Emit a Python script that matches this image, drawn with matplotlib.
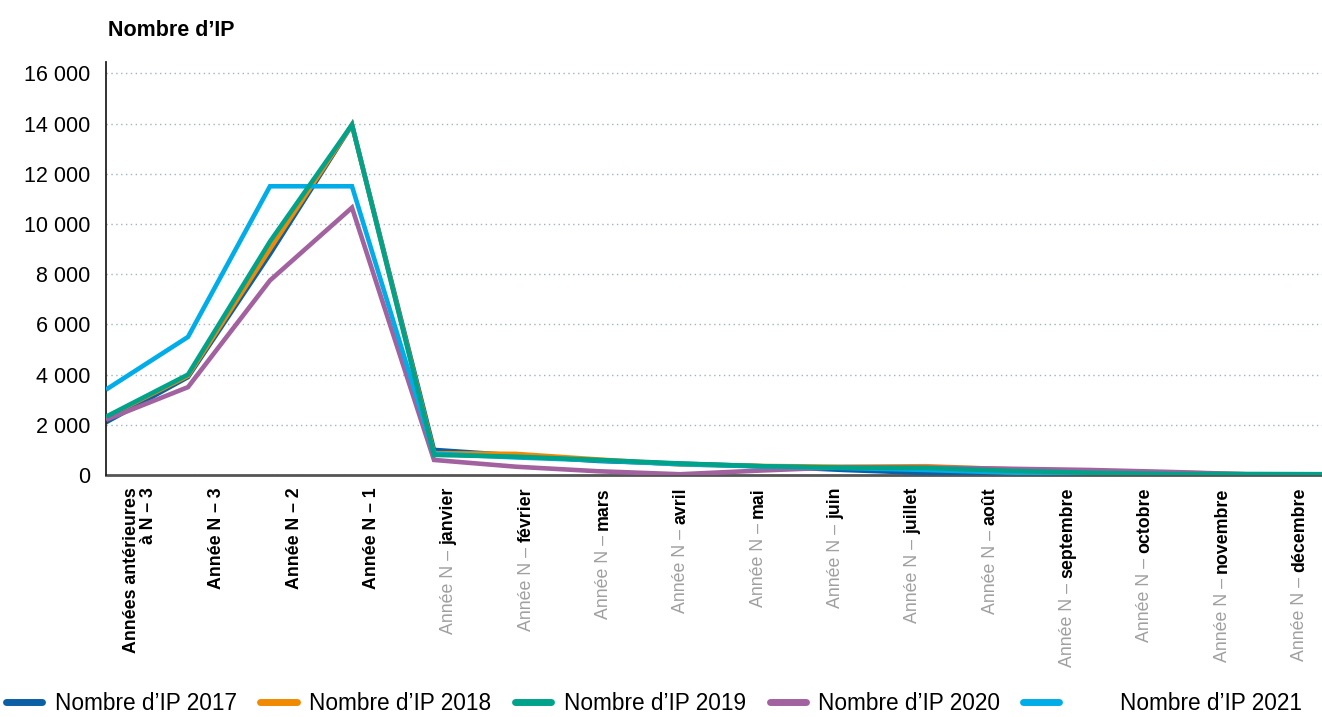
import matplotlib
matplotlib.use("Agg")
import matplotlib.pyplot as plt
import matplotlib.transforms as mtransforms
from matplotlib.ticker import FuncFormatter

plt.rcParams['font.family'] = ['Liberation Sans', 'DejaVu Sans']

# categories : partie grise + partie noire du libellé
cat_prefix = ["", "", "", "", "Année N – ", "Année N – ", "Année N – ", "Année N – ",
              "Année N – ", "Année N – ", "Année N – ", "Année N – ", "Année N – ",
              "Année N – ", "Année N – ", "Année N – "]
cat_main = ["Années antérieures\nà N – 3", "Année N – 3", "Année N – 2", "Année N – 1",
            "janvier", "février", "mars", "avril", "mai", "juin", "juillet", "août",
            "septembre", "octobre", "novembre", "décembre"]

ip_2017 = [2100, 3900, 8800, 13950, 1000, 780, 560, 450, 350, 200, 80, 20, 0, 0, 10, 10]
ip_2018 = [2300, 3950, 9000, 13950, 870, 840, 620, 420, 360, 330, 350, 230, 150, 100, 20, 10]
ip_2019 = [2320, 4000, 9300, 13950, 800, 730, 600, 460, 350, 290, 280, 170, 90, 40, 40, 30]
ip_2020 = [2200, 3500, 7750, 10650, 600, 330, 150, 30, 180, 310, 300, 250, 200, 120, 20, 10]
ip_2021 = [3400, 5500, 11500, 11500, 850, 700, 580, 430, 340, 280, 200, 100, 0, 0, 0, 0]

series = [
    ("Nombre d’IP 2017", ip_2017, "#0b5fa5", 2),
    ("Nombre d’IP 2018", ip_2018, "#f08a00", 3),
    ("Nombre d’IP 2019", ip_2019, "#00a38a", 6),
    ("Nombre d’IP 2020", ip_2020, "#a2629f", 4),
    ("Nombre d’IP 2021", ip_2021, "#00ade8", 5),
]

fig = plt.figure(figsize=(13.22, 7.17), dpi=100)
ax = fig.add_axes([106 / 1322, 242 / 717, 1 - 106 / 1322, 413 / 717])

x = list(range(len(cat_main)))
lines = []
for label, vals, color, z in series:
    ln, = ax.plot(x, vals, color=color, lw=3.3, label=label, zorder=z,
                  solid_joinstyle='miter', solid_capstyle='butt')
    lines.append(ln)

ax.set_xlim(0, 14.83)
ax.set_ylim(0, 16450)
ax.set_yticks(range(0, 16001, 2000))
ax.yaxis.set_major_formatter(FuncFormatter(lambda v, p: f"{int(v):,}".replace(",", " ")))
ax.tick_params(axis='y', length=0, pad=11, labelsize=15.5)
ax.tick_params(axis='x', length=0, labelbottom=False)
ax.grid(axis='y', color='#9fb4c0', linestyle=(0, (1, 2.5)), lw=1)
ax.set_axisbelow(True)

for s in ['top', 'right']:
    ax.spines[s].set_visible(False)
ax.spines['left'].set_color('#222222')
ax.spines['left'].set_linewidth(1.3)
ax.spines['bottom'].set_color('#555555')
ax.spines['bottom'].set_linewidth(2)
ax.spines['bottom'].set_zorder(1)

# libellés des catégories (légèrement décalés comme dans l'original)
trans = mtransforms.blended_transform_factory(ax.transData, ax.transAxes)
off = mtransforms.offset_copy(trans, fig=fig, x=0, y=-9, units='points')
for i in x:
    lx = 0.41 + 0.943 * i
    t = ax.text(lx, 0, cat_main[i], transform=off, rotation=90, ha='center', va='top',
                fontsize=12.8, fontweight='bold', color='black', multialignment='right',
                clip_on=False, linespacing=1.0)
    if cat_prefix[i]:
        ax.annotate(cat_prefix[i], xy=(0.5, 0), xycoords=t, rotation=90,
                    ha='center', va='top', fontsize=12.8, color='#a0a0a0',
                    annotation_clip=False)

fig.text(108 / 1322, 1 - 30 / 717, "Nombre d’IP", fontsize=15.5, fontweight='bold',
         ha='left', va='center')

leg_kw = dict(frameon=False, fontsize=16.3, handlelength=1.6, borderpad=0, borderaxespad=0)
leg1 = fig.legend(handles=lines[:4], loc='center left', bbox_to_anchor=(6 / 1322, 1 - 703 / 717),
                  ncol=4, handletextpad=0.55, columnspacing=1.05, **leg_kw)
leg2 = fig.legend(handles=lines[4:], loc='center left', bbox_to_anchor=(1023 / 1322, 1 - 703 / 717),
                  ncol=1, handletextpad=2.7, **leg_kw)
for lg in (leg1, leg2):
    for h in lg.get_lines():
        h.set_linewidth(5)
        h.set_solid_capstyle('round')

fig.savefig("out.png", dpi=100)
